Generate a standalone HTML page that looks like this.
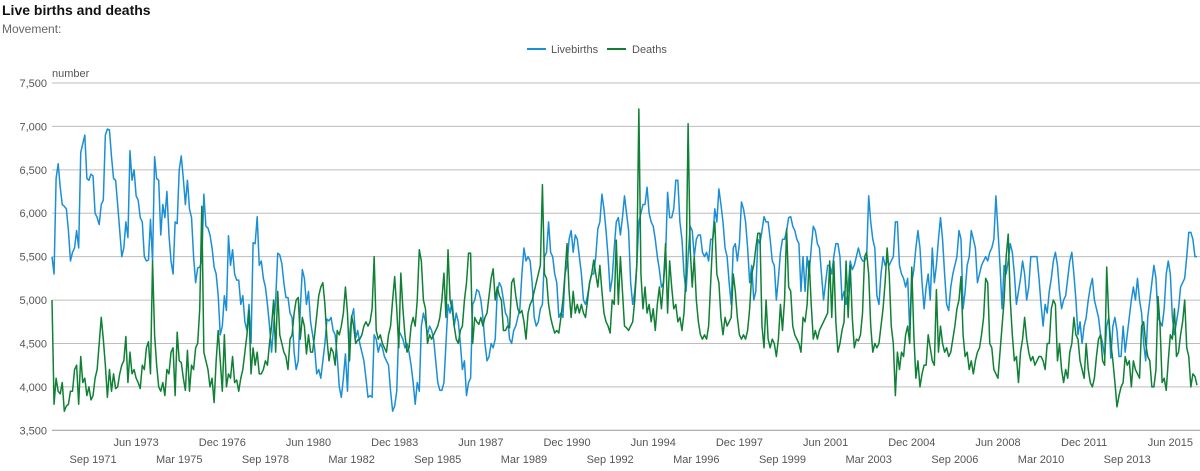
<!DOCTYPE html>
<html><head><meta charset="utf-8"><style>
body{margin:0;background:#fff;width:1200px;height:471px;overflow:hidden;font-family:"Liberation Sans",Arial,sans-serif;}
svg{position:absolute;left:0;top:0}
</style></head><body>
<svg id="chart" width="1200" height="471">
<text x="2" y="15" font-size="14" font-weight="bold" fill="#111">Live births and deaths</text>
<text x="2" y="33" font-size="12" fill="#666">Movement:</text>
<g>
<g><line x1="527" y1="49" x2="546" y2="49" stroke="#1a8fd5" stroke-width="2"/><text x="551" y="53" font-size="11" fill="#555">Livebirths</text></g>
<g><line x1="607" y1="49" x2="626" y2="49" stroke="#0f8035" stroke-width="2"/><text x="632" y="53" font-size="11" fill="#555">Deaths</text></g>
</g>
<text x="52" y="77" font-size="11" fill="#555">number</text>
<g id="grid"></g><g id="xl"></g><g id="series"></g>
</svg>
<script>
const yTicks=[3500,4000,4500,5000,5500,6000,6500,7000,7500];
const startYear=1970;
const births=[
5500,5300,6400,6570,6300,6100,6080,6050,5800,5450,5550,5600,
5800,5600,6700,6800,6900,6400,6380,6450,6430,6000,5950,5870,
6100,6150,6900,6970,6960,6650,6400,6380,6100,5800,5500,5600,
5900,5720,6720,6380,6500,6200,6150,5950,5900,5500,5450,5460,
5930,5450,6650,6400,6380,5750,6100,5950,6250,5750,5450,5300,
5900,5880,6500,6660,6400,6100,6380,6050,5950,5500,5200,5370,
5380,5450,6220,5850,5830,5750,5600,5380,5300,5050,4600,4700,
5050,4880,5740,5400,5580,5300,5230,5230,4950,5050,4750,4650,
4950,4500,5660,5650,5960,5400,5450,5250,5150,4950,4700,4400,
4700,5000,5540,5520,5420,5200,5030,5030,4850,4800,4400,4200,
4300,4900,5350,5250,4950,5100,4750,4600,4450,4150,4200,4100,
4300,4500,4780,4760,4800,4650,4600,4350,4000,3880,4100,4380,
3950,4600,4800,4900,4560,4650,4500,4400,4300,4100,3880,3900,
3880,4600,4550,4400,4500,4450,4350,4300,4250,3950,3720,3780,
3950,4650,4600,4550,4450,4500,4400,4250,4050,3800,4050,3950,
4700,4850,4750,4600,4700,4650,4550,4300,4050,3960,3960,4050,
4500,4950,4850,5000,4700,4850,4750,4500,4200,4300,3900,4050,
4100,4950,5000,5120,5100,5000,4800,4500,4300,4350,4500,4450,
4550,5100,5200,5150,5000,4850,4800,4550,4500,4650,4700,4800,
4900,5300,5600,5450,5500,5450,5200,4800,4700,4750,4900,4950,
5500,5550,5900,5550,5500,5300,5200,4800,4850,4800,5300,5400,
5700,5800,5550,5750,5700,5500,5300,5000,4950,5050,5200,5300,
5300,5500,5820,5900,6220,6050,5800,5500,5100,5250,5600,5900,
5950,5750,5950,6200,6000,5800,5200,4950,5100,5400,5900,6000,
6100,6100,6300,6000,5900,5850,5700,5500,5350,5150,5200,5500,
6240,5950,5950,6050,6380,6380,5900,5700,5300,5100,5500,5850,
5800,5500,5700,5750,5750,5550,5500,5550,5450,5700,5700,6050,
5900,6280,6100,5900,5600,5500,5200,4950,5600,5650,5450,5650,
6130,6050,5900,5600,5200,5400,5000,5100,5700,5650,5800,5960,
5900,5900,5700,5450,5400,5000,5250,5550,5700,5700,5800,5950,
5960,5850,5800,5700,5650,5100,5500,5100,5500,5300,5600,5850,
5800,5650,5600,5300,5000,5200,5400,5400,5300,5500,5650,5650,
5500,5000,5100,4950,5150,5450,5350,5400,5500,5600,5500,5450,
5450,5500,6200,5900,5700,5600,5050,4950,5300,5500,5400,5450,
5400,5450,5500,5900,5900,5400,5300,5250,5150,5250,4650,5200,
5350,5600,5800,5600,5200,4900,5150,5300,5000,5600,5200,5400,
5700,5950,5700,5300,4950,4880,5150,5300,5400,5500,5800,5700,
4900,5100,5400,5500,5800,5700,5600,5200,5300,5400,5450,5500,
5450,5550,5600,5700,6200,5800,5400,4900,5400,5300,5450,5650,
5550,5300,4950,5100,5250,5450,5300,5000,5150,5500,5500,5500,
5500,5250,4950,4700,4950,4850,5100,5250,5450,5550,5400,5100,
4900,5000,5050,5250,5450,5550,5300,5000,4600,4750,4500,4700,
4800,5000,5150,5250,5000,4900,4800,4600,4500,4350,4700,4800,
4330,4700,4800,4650,4350,4350,4700,4400,4600,4800,5000,5150,
5000,5250,5000,4850,4500,4300,4800,5000,5200,5400,5250,4800,
4750,4700,4900,5300,5450,5300,4800,4600,4750,4900,5150,5200,
5250,5500,5780,5780,5700,5500,5500];
const deaths=[
5000,3800,4100,3950,3920,4050,3720,3780,3800,3950,3950,4200,
4250,3800,4350,4050,4100,3900,4000,3850,3900,4100,4200,4500,
4800,4550,4250,3880,4200,3950,4150,3980,4000,4150,4250,4300,
4580,4050,4400,4150,4200,4100,4050,3980,4250,4200,4450,4520,
4150,5450,4600,4250,4000,3950,4050,3900,4200,4150,4400,4450,
3900,4630,4300,4280,4100,3960,4420,3950,4250,4200,4450,4500,
4900,6080,4400,4300,4200,4000,4100,3820,4300,4650,4300,3950,
4600,4000,4150,4100,4350,4050,4080,3950,4100,4200,4400,4600,
4880,4150,4450,4250,4400,4150,4150,4200,4300,4250,4500,4700,
5000,4400,5100,4600,4500,4400,4350,4200,4550,4600,4850,5000,
5030,4550,4800,4700,4380,4600,4400,4400,4600,4820,5050,5150,
5200,4950,4550,4300,4450,4400,4250,4650,4600,4700,4850,5150,
4850,4300,4820,4700,4500,4540,4550,4600,4700,4750,4700,4750,
4900,5500,4650,4550,4600,4500,4450,4400,4600,4700,5000,5270,
4900,4450,5310,4900,4600,4400,4450,4700,4800,4700,5000,5580,
5450,5000,4900,4500,4600,4550,4600,4650,4700,4800,5000,5310,
4800,5580,5000,4900,4700,4550,4500,4650,4700,5000,5200,5540,
5540,4500,4800,4750,4720,4800,4700,4800,4850,5050,5250,5360,
5000,5150,5050,5000,4650,4650,4700,4680,5200,5250,5050,4900,
4850,4880,4750,4550,4850,4950,5000,5100,5200,5300,5400,6330,
5300,5250,4950,4800,4700,4620,4650,4620,4800,5000,5300,5650,
5100,4800,5100,4850,4950,4850,4950,4850,4800,5000,5200,5300,
5460,5300,5150,5400,5100,4850,4750,4700,4620,5000,4950,5690,
4950,5500,5100,4700,4680,4650,4700,4750,5000,5400,7200,5300,
4900,5150,4850,4950,4750,4900,4650,4950,5150,4900,5200,5650,
4850,5450,5150,4900,4950,4750,4800,4650,4850,5300,7030,5600,
5150,5500,5000,4750,4600,4550,4600,4550,4700,5200,5700,5900,
5300,5200,4800,4600,4800,4700,4750,4800,5300,5100,4800,4600,
4550,4600,4550,4650,4900,5300,5400,5600,5770,5770,4700,4450,
5000,4550,4450,4550,4500,4350,4550,4950,4650,5000,5820,5150,
5100,4700,4600,4550,4500,4400,4800,4750,4950,5450,4950,4550,
4650,4550,4650,4700,4750,4800,4850,5450,4800,5450,4750,4400,
4500,4650,4750,5450,4800,5400,4800,4450,4550,4530,4600,4850,
5500,5550,5300,4700,4400,4500,4450,4500,4700,4900,5200,5600,
5300,4700,4500,3900,4400,4200,4400,4350,4600,4700,4500,5380,
4600,4100,4300,4000,4150,4250,4250,4600,4450,4300,4250,5120,
4400,4700,4500,4400,4450,4350,4400,4550,4700,4900,5000,5270,
4600,4350,4400,4200,4300,4150,4300,4400,4450,4600,4800,5250,
5200,4500,4450,4200,4150,4100,4400,4700,5000,5500,5760,5000,
4600,4300,4350,4050,4400,4550,4800,4550,4400,4300,4350,4250,
4300,4350,4350,4300,4200,4500,4500,4900,5000,4950,4300,4500,
4200,4050,4200,4100,4400,4500,4800,4600,4550,4300,4200,4100,
4500,4200,4050,4000,4100,4350,4550,4600,4300,4250,5380,4800,
4500,4300,4050,3770,3900,4000,4050,4350,4250,4300,4000,4300,
4200,4150,4100,4700,4750,4500,4350,4300,4000,4000,4200,5040,
4700,4050,4100,3960,4300,4600,4550,4900,4350,4400,4600,4750,
5000,4450,4350,4000,4150,4120,4020];
const monthNames=["Jan","Feb","Mar","Apr","May","Jun","Jul","Aug","Sep","Oct","Nov","Dec"];
const NS="http://www.w3.org/2000/svg";
const X0=52,X1=1197,YT=83,YB=430.3;
const n=births.length;
function xs(i){return X0+i*(X1-X0)/(n-1);}
function ys(v){return YB-(v-3500)*(YB-YT)/4000;}
function mk(tag,attrs,parent){const e=document.createElementNS(NS,tag);for(const k in attrs)e.setAttribute(k,attrs[k]);parent.appendChild(e);return e;}
const grid=document.getElementById('grid');
yTicks.forEach(t=>{
  const l=mk('line',{x1:X0,x2:1200,y1:ys(t),y2:ys(t),stroke:t===3500?'#999':'#bdbdbd','stroke-width':1},grid);
  
  
  const tx=mk('text',{x:47,y:ys(t)+4,'text-anchor':'end','font-size':11,fill:'#555'},grid);
  tx.textContent=t.toLocaleString('en-US');
  
  
});
const xl=document.getElementById('xl');
let row=1;
for(let i=20;i<n;i+=21){
  const yr=startYear+Math.floor(i/12),m=i%12;
  const tx=mk('text',{x:xs(i),y:row?463:446,'text-anchor':'middle','font-size':11,fill:'#555'},xl);
  tx.textContent=monthNames[m]+' '+yr;
  
  
  row=1-row;
}
const sg=document.getElementById('series');
function line(arr,color,name){
  const d=arr.map((v,i)=>(i?'L':'M')+xs(i).toFixed(2)+','+ys(v).toFixed(2)).join('');
  const p=mk('path',{d:d,fill:'none',stroke:color,'stroke-width':1.5,'stroke-linejoin':'round'},sg);
  
  
}
line(births,'#1a8fd5','livebirths-line');
line(deaths,'#0f8035','deaths-line');
</script>
</body></html>
